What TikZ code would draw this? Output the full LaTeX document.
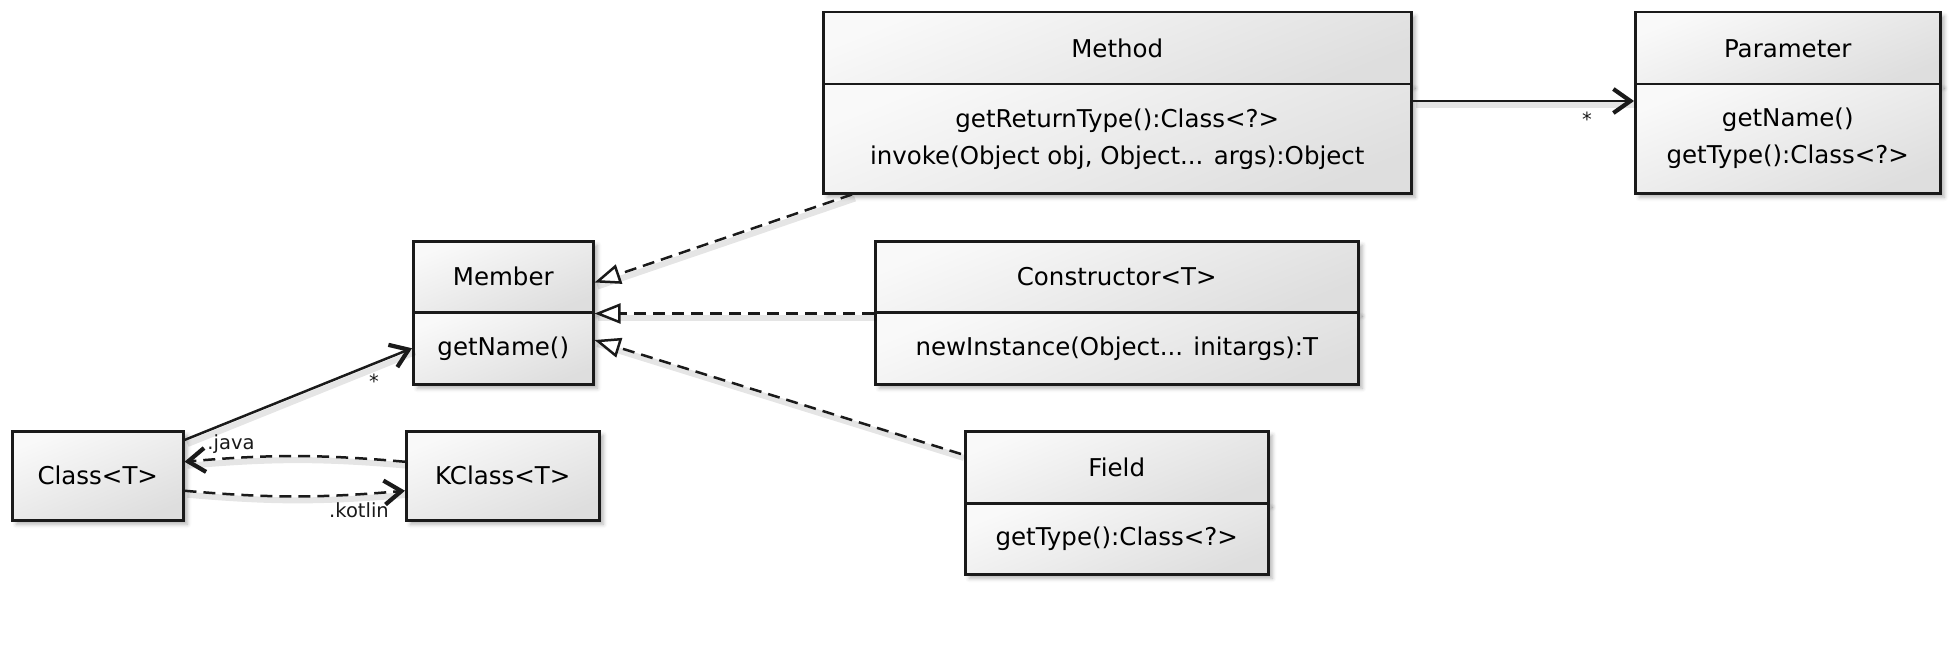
\documentclass[tikz,border=0pt]{standalone}
\usepackage{fontspec}
\setmainfont{DejaVu Sans}
\usetikzlibrary{arrows.meta,calc,shadows.blur}
\definecolor{shtop}{HTML}{F9F9F9}
\definecolor{shbot}{HTML}{DEDEDE}
\definecolor{ink}{HTML}{1A1A1A}
\begin{document}
\begin{tikzpicture}[x=1pt,y=-1pt,
  box/.style={draw=ink, line width=2.5pt, anchor=north west, inner sep=0pt,
    shading=axis, top color=shtop, bottom color=shbot, shading angle=22,
    blur shadow={shadow xshift=4pt, shadow yshift=-4pt, shadow blur radius=4pt, shadow opacity=30},
    font=\fontsize{24.5}{37}\selectfont, align=center},
  lbl/.style={font=\fontsize{19.5}{22}\selectfont, inner sep=0pt, text=ink},
  conn/.style={draw=ink, line width=2.5pt,
    preaction={draw=black, draw opacity=0.10, line width=6pt, solid, arrows=-,
      transform canvas={shift={(3pt,-4pt)}}}},
  vtip/.style={-{Straight Barb[length=17pt,width=24pt,line width=4.2pt]}},
  assoc/.style={conn, vtip},
  gen/.style={conn, dash pattern=on 12pt off 7pt, -{Triangle[open,length=26pt,width=20pt,fill=white,line width=2.5pt]}},
  dep/.style={conn, dash pattern=on 12pt off 7pt, vtip}
]
\useasboundingbox (0,0) rectangle (1950,658);

% Method
\node[box, minimum width=588pt, minimum height=72pt] (methodT) at (822,11) {Method};
\node[box, minimum width=588pt, minimum height=109pt] (methodB) at (822,83) {getReturnType():Class<?>\\invoke(Object obj, Object... args):Object};
% Parameter
\node[box, minimum width=305pt, minimum height=72pt] (paramT) at (1634,11) {Parameter};
\node[box, minimum width=305pt, minimum height=109pt] (paramB) at (1634,83) {getName()\\getType():Class<?>};
% Member
\node[box, minimum width=180pt, minimum height=71pt] (memberT) at (412,240) {Member};
\node[box, minimum width=180pt, minimum height=72pt] (memberB) at (412,311) {getName()};
% Constructor
\node[box, minimum width=483pt, minimum height=71pt] (ctorT) at (874,240) {Constructor<T>};
\node[box, minimum width=483pt, minimum height=72pt] (ctorB) at (874,311) {newInstance(Object... initargs):T};
% Field
\node[box, minimum width=303pt, minimum height=72pt] (fieldT) at (964,430) {Field};
\node[box, minimum width=303pt, minimum height=71pt] (fieldB) at (964,502) {getType():Class<?>};
% Class / KClass
\node[box, minimum width=171pt, minimum height=89pt] (cls) at (11,430) {Class<T>};
\node[box, minimum width=193pt, minimum height=89pt] (kcls) at (405,430) {KClass<T>};

% generalizations
\draw[gen] ($(methodB.south west)+(30,0)$) -- ($(memberT.south east)+(0,-31)$);
\draw[gen] (ctorT.south west) -- (memberT.south east);
\draw[gen] ($(fieldT.north west)+(-3,24)$) -- ($(memberB.north east)+(0,29)$);

% associations
\draw[assoc] ($(cls.north east)+(0,10)$) -- (memberB.west);
\node[lbl] (starM) at (374,381) {*};
\draw[assoc] ($(methodB.north east)+(0,18)$) -- ($(paramB.north west)+(0,18)$);
\node[lbl] (starP) at (1587,119) {*};

% Class <-> KClass
\draw[dep] ($(kcls.west)+(0,-14)$) to[bend right=5] ($(cls.east)+(0,-14)$);
\node[lbl] (javaL) at (231,444) {.java};
\draw[dep] ($(cls.east)+(0,15)$) to[bend right=5] ($(kcls.west)+(0,15)$);
\node[lbl] (kotlinL) at (359,510) {.kotlin};
\end{tikzpicture}
\end{document}
